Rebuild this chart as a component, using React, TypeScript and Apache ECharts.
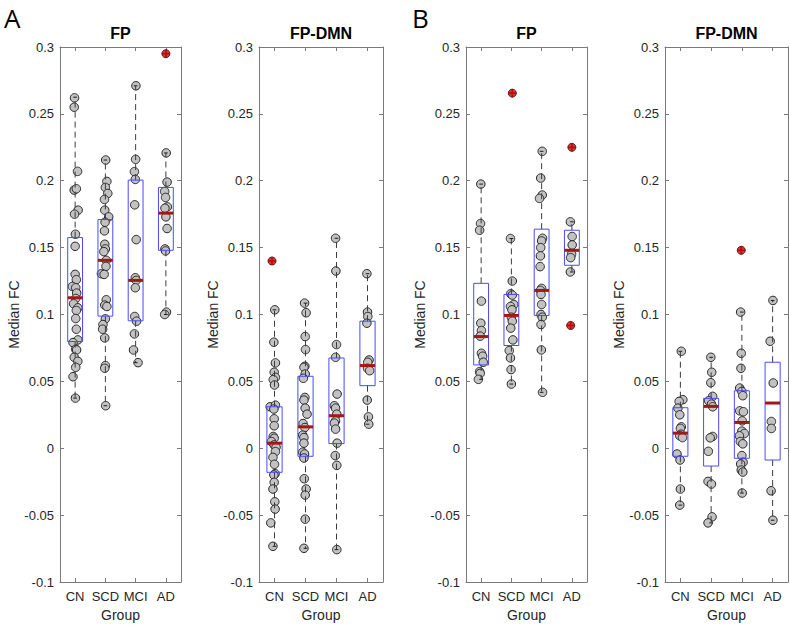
import React, { useEffect, useRef } from "react";
import * as echarts from "echarts";

const groups = ["CN", "SCD", "MCI", "AD"];
const yTicks = [-0.1, -0.05, 0, 0.05, 0.1, 0.15, 0.2, 0.25, 0.3];
const yTickLabels = ["-0.1", "-0.05", "0", "0.05", "0.1", "0.15", "0.2", "0.25", "0.3"];
const panelTitles = ["FP", "FP-DMN", "FP", "FP-DMN"];
const panelLetters = ["A", "B"];
const yAxisTitle = "Median FC";
const xAxisTitle = "Group";

// points per group: [jitter (in category units), value]
const aFpPoints = [
  [[-0.02, 0.262], [-0.03, 0.255], [0.08, 0.207], [-0.03, 0.193], [0.04, 0.194], [0.1, 0.178], [-0.02, 0.175], [0.01, 0.16], [0, 0.151], [0, 0.13], [0.04, 0.126], [-0.09, 0.121], [0.02, 0.12], [0.05, 0.116], [0.02, 0.112], [-0.05, 0.108], [0.09, 0.105], [0.04, 0.103], [0.02, 0.097], [0.04, 0.089], [0.09, 0.081], [-0.07, 0.079], [0.02, 0.074], [0.05, 0.0735], [-0.03, 0.068], [0.09, 0.065], [0.02, 0.0605], [-0.07, 0.0535], [0.01, 0.0375]],
  [[0.01, 0.2155], [0.05, 0.1995], [0, 0.195], [0.08, 0.1905], [-0.03, 0.186], [-0.02, 0.178], [0.11, 0.173], [-0.01, 0.169], [-0.03, 0.1625], [-0.02, 0.1525], [0, 0.149], [-0.05, 0.147], [0.03, 0.1405], [0.02, 0.136], [-0.13, 0.1305], [-0.04, 0.13], [0.03, 0.111], [-0.02, 0.107], [0.05, 0.106], [0, 0.0968], [-0.08, 0.0925], [-0.09, 0.089], [-0.02, 0.0825], [0, 0.0618], [-0.02, 0.0598], [0.01, 0.0318]],
  [[0.01, 0.271], [0, 0.216], [-0.04, 0.2068], [-0.01, 0.201], [-0.03, 0.182], [0.02, 0.156], [-0.01, 0.1275], [0.02, 0.1255], [-0.01, 0.12], [-0.03, 0.0985], [0.03, 0.095], [-0.04, 0.0855], [-0.07, 0.0735], [0.08, 0.064]],
  [[0.01, 0.2208], [0.04, 0.199], [-0.04, 0.192], [-0.01, 0.1875], [0.05, 0.1805], [-0.03, 0.1795], [0, 0.173], [0.04, 0.1643], [-0.03, 0.149], [-0.01, 0.1475], [0.02, 0.1018], [-0.04, 0.1]],
];
// box stats per group: [lower whisker, q1, median, q3, upper whisker]
const aFpBoxes = [
  [0.0375, 0.0798, 0.1125, 0.1575, 0.2625],
  [0.0318, 0.0988, 0.1405, 0.171, 0.2155],
  [0.064, 0.0953, 0.1255, 0.2005, 0.271],
  [0.1, 0.148, 0.1758, 0.195, 0.2208],
];
// outliers: [group index, jitter, value]
const aFpOutliers = [[3, 0, 0.295]];

const aFpDmnPoints = [
  [[0.01, 0.1035], [-0.02, 0.0793], [0.03, 0.0638], [-0.01, 0.0568], [0.03, 0.053], [-0.04, 0.0513], [0, 0.0473], [-0.14, 0.031], [0.03, 0.0322], [-0.02, 0.0293], [-0.01, 0.022], [-0.01, 0.0168], [-0.04, 0.0088], [-0.01, 0.0075], [-0.1, 0.005], [-0.01, 0.0025], [0.05, 0.0008], [0.03, -0.0025], [-0.05, -0.0068], [0, -0.012], [0.02, -0.019], [-0.02, -0.02], [-0.01, -0.0255], [-0.05, -0.0305], [0.01, -0.04], [0.02, -0.0455], [-0.12, -0.0558], [-0.05, -0.0733]],
  [[-0.03, 0.1085], [0.02, 0.1013], [-0.01, 0.0835], [0, 0.0738], [-0.02, 0.0613], [-0.05, 0.0605], [-0.01, 0.0555], [-0.07, 0.0523], [-0.02, 0.038], [-0.05, 0.036], [-0.01, 0.03], [0.05, 0.0255], [-0.08, 0.0185], [-0.02, 0.0155], [-0.09, 0.0098], [-0.05, 0.008], [-0.05, 0.0038], [-0.09, -0.003], [-0.03, -0.0043], [-0.05, -0.0073], [-0.04, -0.0228], [0.02, -0.0305], [-0.01, -0.035], [-0.01, -0.053], [-0.05, -0.0748]],
  [[-0.03, 0.157], [-0.02, 0.1325], [0, 0.0775], [-0.03, 0.068], [0.02, 0.0405], [-0.07, 0.0318], [-0.03, 0.03], [0.01, 0.0255], [-0.03, 0.0205], [-0.07, 0.0188], [-0.03, 0.0143], [0.02, 0.0038], [-0.04, -0.0055], [0.01, -0.0128], [0.01, -0.0758]],
  [[-0.02, 0.1305], [0, 0.1018], [0.01, 0.0985], [-0.02, 0.0935], [0.05, 0.066], [0.01, 0.0643], [0, 0.0598], [0.07, 0.058], [-0.01, 0.036], [0.03, 0.0235], [0.04, 0.018]],
];
const aFpDmnBoxes = [
  [-0.0733, -0.018, 0.0038, 0.031, 0.1035],
  [-0.0748, -0.006, 0.016, 0.0538, 0.1085],
  [-0.0758, 0.0035, 0.0243, 0.0675, 0.157],
  [0.018, 0.0468, 0.0618, 0.095, 0.1305],
];
const aFpDmnOutliers = [[0, -0.08, 0.14]];

const bFpPoints = [
  [[-0.01, 0.1975], [-0.02, 0.168], [-0.05, 0.163], [0.01, 0.11], [-0.01, 0.0935], [0.01, 0.088], [-0.03, 0.0838], [0.01, 0.071], [0.05, 0.0688], [0.07, 0.0643], [-0.05, 0.0573], [-0.03, 0.056], [-0.09, 0.0515]],
  [[-0.03, 0.1568], [0.03, 0.125], [-0.02, 0.1155], [0.03, 0.1145], [0.08, 0.1075], [-0.03, 0.106], [0.02, 0.1035], [0, 0.098], [0.03, 0.095], [-0.02, 0.0898], [0.05, 0.081], [-0.07, 0.073], [-0.03, 0.0675], [-0.01, 0.0588], [0, 0.048]],
  [[0.02, 0.222], [-0.03, 0.202], [0.02, 0.1893], [-0.07, 0.1868], [0.03, 0.157], [0, 0.155], [-0.03, 0.15], [-0.04, 0.1438], [-0.05, 0.1358], [0, 0.1195], [-0.04, 0.118], [-0.02, 0.115], [0, 0.1075], [-0.02, 0.1], [0.02, 0.098], [-0.02, 0.0925], [-0.01, 0.0735], [0.03, 0.0418]],
  [[-0.05, 0.1693], [0.01, 0.1583], [0.01, 0.152], [-0.01, 0.145], [-0.04, 0.1425], [-0.05, 0.1318]],
];
const bFpBoxes = [
  [0.0515, 0.0623, 0.0835, 0.1233, 0.1975],
  [0.048, 0.0768, 0.0993, 0.115, 0.1568],
  [0.0418, 0.0993, 0.118, 0.1638, 0.222],
  [0.1318, 0.1368, 0.148, 0.163, 0.1693],
];
const bFpOutliers = [[1, 0.03, 0.2655], [3, 0, 0.225], [3, -0.04, 0.0918]];

const bFpDmnPoints = [
  [[0.03, 0.0725], [0.08, 0.0363], [-0.04, 0.035], [-0.08, 0.03], [-0.02, 0.025], [0.03, 0.016], [0, 0.0148], [0.02, 0.0105], [-0.02, 0.0093], [0.07, 0.008], [-0.11, -0.0043], [-0.01, -0.0088], [0, -0.0305], [-0.02, -0.0425]],
  [[-0.01, 0.068], [0.02, 0.0568], [-0.01, 0.049], [0.05, 0.0388], [-0.08, 0.0355], [0.01, 0.033], [0.05, 0.031], [0.05, 0.0088], [-0.03, 0.0078], [-0.09, -0.0023], [-0.1, -0.0248], [0.01, -0.0268], [0.03, -0.0513], [-0.1, -0.0558]],
  [[-0.04, 0.1018], [-0.02, 0.071], [-0.03, 0.0598], [-0.07, 0.045], [0, 0.0425], [0.03, 0.0393], [-0.07, 0.028], [0.05, 0.0273], [0.01, 0.0205], [0, 0.0128], [0.08, 0.011], [-0.08, 0.0093], [-0.05, 0.005], [0.03, 0.0033], [0, -0.0055], [0.04, -0.0105], [-0.04, -0.0118], [-0.02, -0.0163], [0.03, -0.0178], [0.01, -0.0335]],
  [[0.01, 0.1105], [-0.08, 0.08], [0.02, 0.0488], [-0.04, 0.02], [-0.04, 0.0148], [-0.05, -0.0318], [0.01, -0.0538]],
];
const bFpDmnBoxes = [
  [-0.0425, -0.006, 0.0113, 0.0303, 0.0725],
  [-0.0558, -0.0133, 0.0313, 0.0373, 0.068],
  [-0.0335, -0.0075, 0.0193, 0.043, 0.1018],
  [-0.0538, -0.0088, 0.0338, 0.0643, 0.1105],
];
const bFpDmnOutliers = [[2, -0.02, 0.148]];

const panels = [
  { points: aFpPoints, boxes: aFpBoxes, outliers: aFpOutliers },
  { points: aFpDmnPoints, boxes: aFpDmnBoxes, outliers: aFpDmnOutliers },
  { points: bFpPoints, boxes: bFpBoxes, outliers: bFpOutliers },
  { points: bFpDmnPoints, boxes: bFpDmnBoxes, outliers: bFpDmnOutliers },
];

const FONT = "'Liberation Sans', Arial, Helvetica, sans-serif";
const gridLefts = [60, 259, 466, 665];
const gridWidths = [121, 124, 121, 123];
const gridTop = 47;
const gridHeight = 535;
const axisColor = "#7a7a7a";
const textColor = "#262626";

function renderBox(params: any, api: any) {
  const x = api.value(0);
  const lo = api.value(1);
  const q1 = api.value(2);
  const med = api.value(3);
  const q3 = api.value(4);
  const hi = api.value(5);
  const hw = 0.245;
  const cw = 0.06;
  const [xl, yq3] = api.coord([x - hw, q3]);
  const [xr, yq1] = api.coord([x + hw, q1]);
  const [xc, yhi] = api.coord([x, hi]);
  const ylo = api.coord([x, lo])[1];
  const ymed = api.coord([x, med])[1];
  const cl = api.coord([x - cw, 0])[0];
  const cr = api.coord([x + cw, 0])[0];
  const dash = { stroke: "#3c3c3c", lineWidth: 1, lineDash: [6, 4] };
  const cap = { stroke: "#1e1e1e", lineWidth: 1 };
  return {
    type: "group",
    children: [
      { type: "line", shape: { x1: xc, y1: yq3, x2: xc, y2: yhi }, style: dash },
      { type: "line", shape: { x1: xc, y1: yq1, x2: xc, y2: ylo }, style: dash },
      { type: "line", shape: { x1: cl, y1: yhi, x2: cr, y2: yhi }, style: cap },
      { type: "line", shape: { x1: cl, y1: ylo, x2: cr, y2: ylo }, style: cap },
      {
        type: "rect",
        shape: { x: xl, y: yq3, width: xr - xl, height: yq1 - yq3 },
        style: { fill: "none", stroke: "#4a4aff", lineWidth: 1 },
      },
      { type: "line", shape: { x1: xl, y1: ymed, x2: xr, y2: ymed }, style: { stroke: "#a51616", lineWidth: 3 } },
    ],
  };
}

function renderOutlier(params: any, api: any) {
  const [px, py] = api.coord([api.value(0), api.value(1)]);
  const r = 4;
  return {
    type: "group",
    children: [
      { type: "circle", shape: { cx: px, cy: py, r }, style: { fill: "#b84848", stroke: "#5a1414", lineWidth: 1 } },
      { type: "line", shape: { x1: px - r, y1: py, x2: px + r, y2: py }, style: { stroke: "#d00000", lineWidth: 1.6 } },
      { type: "line", shape: { x1: px, y1: py - r, x2: px, y2: py + r }, style: { stroke: "#d00000", lineWidth: 1.6 } },
    ],
  };
}

function buildOption() {
  const grid: any[] = [];
  const xAxis: any[] = [];
  const yAxis: any[] = [];
  const series: any[] = [];
  const graphic: any[] = [];

  panels.forEach((p, i) => {
    grid.push({ left: gridLefts[i], top: gridTop, width: gridWidths[i], height: gridHeight });
    const line = { show: true, onZero: false, lineStyle: { color: axisColor, width: 1 } };
    const tick = { show: true, inside: true, length: 4, alignWithLabel: true, interval: 0, lineStyle: { color: axisColor } };
    xAxis.push({
      type: "category",
      gridIndex: i,
      position: "bottom",
      data: groups,
      axisLine: line,
      axisTick: tick,
      axisLabel: { color: textColor, fontFamily: FONT, fontSize: 13, margin: 8, interval: 0 },
      splitLine: { show: false },
    });
    xAxis.push({
      type: "category",
      gridIndex: i,
      position: "top",
      data: groups,
      axisLine: line,
      axisTick: tick,
      axisLabel: { show: false },
      splitLine: { show: false },
    });
    xAxis.push({ type: "value", gridIndex: i, min: 0.5, max: 4.5, show: false, splitLine: { show: false } });
    const yBase = {
      type: "value",
      gridIndex: i,
      min: yTicks[0],
      max: yTicks[yTicks.length - 1],
      interval: 0.05,
      axisLine: { show: true, onZero: false, lineStyle: { color: axisColor, width: 1 } },
      axisTick: { show: true, inside: true, length: 4, lineStyle: { color: axisColor } },
      splitLine: { show: false },
    };
    yAxis.push({
      ...yBase,
      position: "left",
      axisLabel: {
        color: textColor,
        fontFamily: FONT,
        fontSize: 13,
        margin: 6,
        formatter: (v: number) => {
          const k = yTicks.findIndex((t) => Math.abs(t - v) < 1e-9);
          return k >= 0 ? yTickLabels[k] : "";
        },
      },
    });
    yAxis.push({ ...yBase, position: "right", axisLabel: { show: false } });

    const pts: number[][] = [];
    p.points.forEach((g, gi) => g.forEach(([j, v]) => pts.push([gi + 1 + j, v])));
    series.push({
      type: "scatter",
      xAxisIndex: 3 * i + 2,
      yAxisIndex: 2 * i,
      data: pts,
      symbol: "circle",
      symbolSize: 8.5,
      itemStyle: { color: "#c2c2c2", borderColor: "#262626", borderWidth: 1, opacity: 1 },
      z: 2,
      silent: true,
    });
    series.push({
      type: "custom",
      xAxisIndex: 3 * i + 2,
      yAxisIndex: 2 * i,
      data: p.boxes.map((b, gi) => [gi + 1, ...b]),
      encode: { x: 0, y: [1, 2, 3, 4, 5] },
      renderItem: renderBox,
      z: 3,
      silent: true,
    });
    series.push({
      type: "custom",
      xAxisIndex: 3 * i + 2,
      yAxisIndex: 2 * i,
      data: p.outliers.map(([gi, j, v]) => [gi + 1 + j, v]),
      encode: { x: 0, y: 1 },
      renderItem: renderOutlier,
      z: 4,
      silent: true,
    });

    const cx = gridLefts[i] + gridWidths[i] / 2;
    graphic.push({
      type: "text",
      x: cx,
      y: 33,
      style: { text: panelTitles[i], font: `bold 16px ${FONT}`, fill: "#000", align: "center", verticalAlign: "middle" },
    });
    graphic.push({
      type: "text",
      x: cx,
      y: 615,
      style: { text: xAxisTitle, font: `14px ${FONT}`, fill: textColor, align: "center", verticalAlign: "middle" },
    });
    graphic.push({
      type: "text",
      x: gridLefts[i] - 46,
      y: gridTop + gridHeight / 2,
      rotation: Math.PI / 2,
      style: { text: yAxisTitle, font: `14px ${FONT}`, fill: textColor, align: "center", verticalAlign: "middle" },
    });
  });

  graphic.push({
    type: "text",
    x: 4,
    y: 18,
    style: { text: panelLetters[0], font: `26px 'Open Sans', 'Noto Sans', sans-serif`, fill: "#000", align: "left", verticalAlign: "middle" },
  });
  graphic.push({
    type: "text",
    x: 412,
    y: 18,
    style: { text: panelLetters[1], font: `26px 'Open Sans', 'Noto Sans', sans-serif`, fill: "#000", align: "left", verticalAlign: "middle" },
  });

  return {
    animation: false,
    backgroundColor: "#ffffff",
    grid,
    xAxis,
    yAxis,
    series,
    graphic,
  };
}

export default function App() {
  const ref = useRef<HTMLDivElement>(null);
  useEffect(() => {
    if (!ref.current) return;
    const chart = echarts.init(ref.current, undefined, { renderer: "svg" });
    chart.setOption(buildOption() as any);
    return () => chart.dispose();
  }, []);
  return <div ref={ref} style={{ position: "absolute", left: 0, top: 0, width: 790, height: 626 }} />;
}
